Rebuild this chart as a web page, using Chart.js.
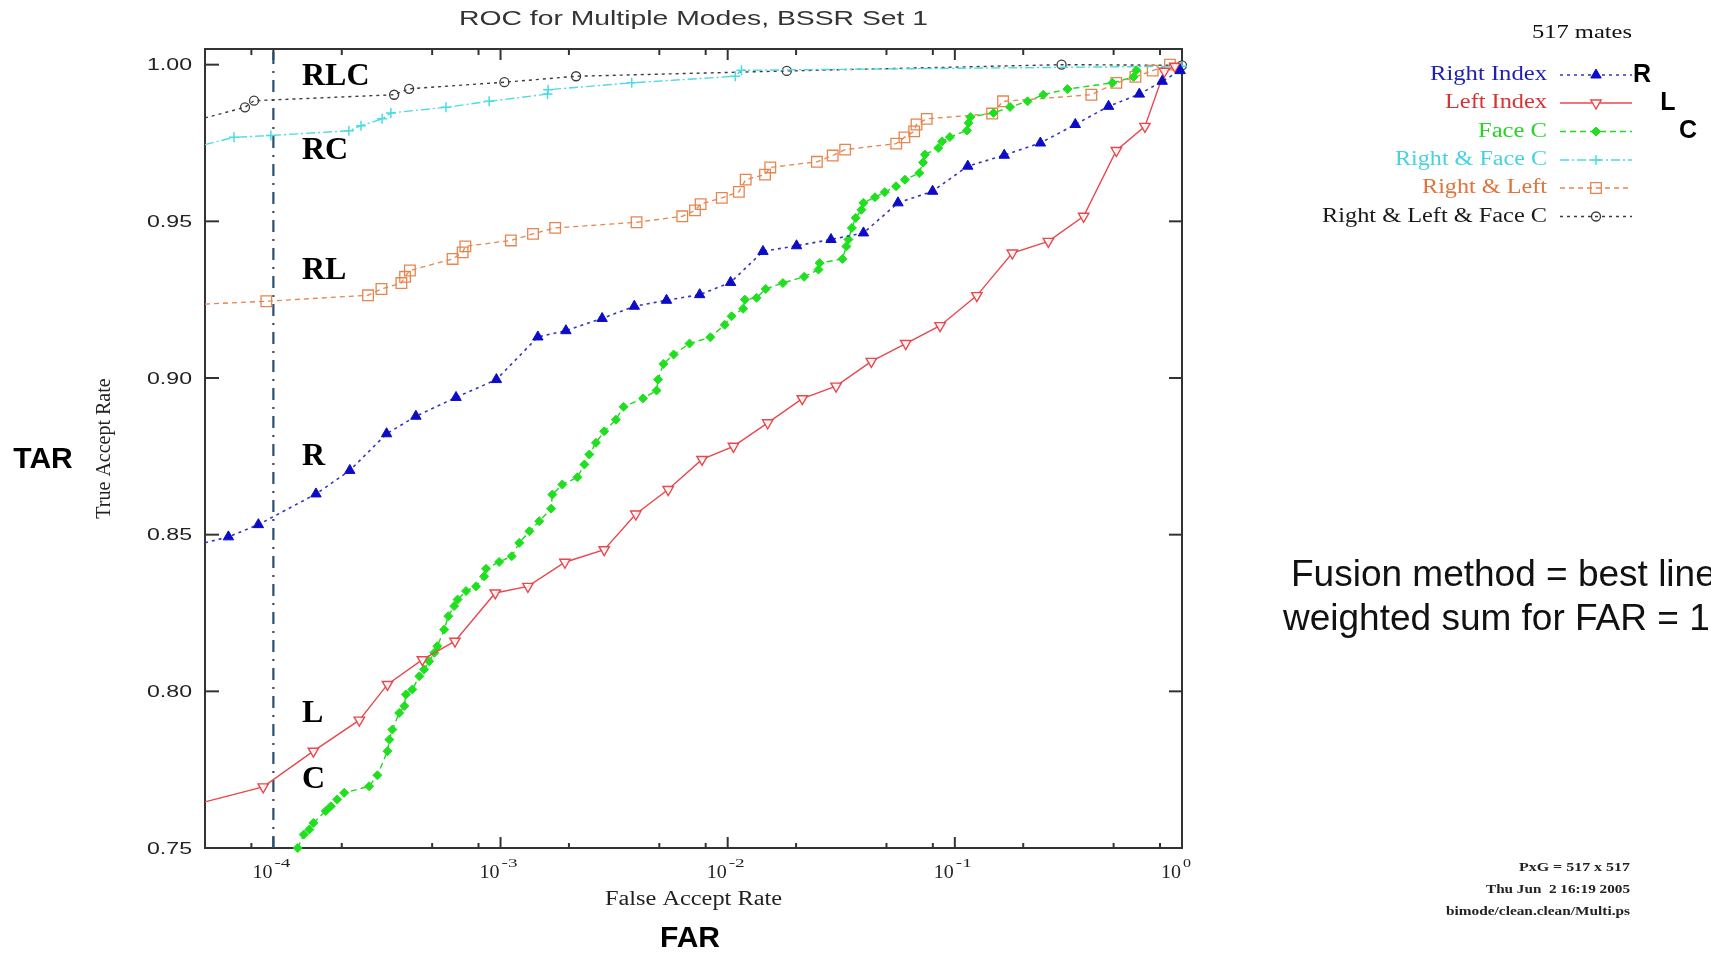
<!DOCTYPE html>
<html>
<head>
<meta charset="utf-8">
<script src="https://cdn.jsdelivr.net/npm/chart.js@4.4.1/dist/chart.umd.min.js"></script>
<style>
    html, body { margin: 0; padding: 0; background: #fff; }
    #roc { display: block; }
</style>
</head>
<body>
<canvas id="roc" width="1711" height="955"></canvas>
<script>
// axes
const xMin = 5e-5, xMax = 1;
const yMin = 0.75, yMax = 1.005;
const xDecades = [1e-4, 1e-3, 1e-2, 1e-1, 1];
const xDecadeExp = ['-4', '-3', '-2', '-1', '0'];
const xMinorSteps = [2, 5, 8];
const yTicks = [0.75, 0.80, 0.85, 0.90, 0.95, 1.00];
const farThreshold = 1e-4;

const seriesNames = ['Right Index', 'Left Index', 'Face C', 'Right & Face C', 'Right & Left', 'Right & Left & Face C'];

// Right Index
const rightFar = [5e-5, 6.34e-5, 8.59e-5, 1.54e-4, 2.17e-4, 3.15e-4, 4.24e-4, 6.37e-4, 9.59e-4, 1.46e-3,
    1.94e-3, 2.80e-3, 3.88e-3, 5.38e-3, 7.53e-3, 1.03e-2, 1.43e-2, 2.01e-2, 2.85e-2, 3.96e-2,
    5.62e-2, 7.98e-2, 0.114, 0.165, 0.238, 0.339, 0.475, 0.649, 0.818, 0.982];
const rightTar = [0.8474, 0.8493, 0.8532, 0.8630, 0.8705, 0.8822, 0.8878, 0.8938, 0.8995, 0.9131,
    0.9151, 0.9190, 0.9229, 0.9248, 0.9266, 0.9305, 0.9404, 0.9422, 0.9442, 0.9463,
    0.9559, 0.9596, 0.9676, 0.9711, 0.9750, 0.9809, 0.9867, 0.9906, 0.9947, 0.9981];

// Left Index
const leftFar = [5e-5, 9.02e-5, 1.50e-4, 2.39e-4, 3.18e-4, 4.53e-4, 6.30e-4, 9.48e-4, 1.32e-3, 1.92e-3,
    2.86e-3, 3.94e-3, 5.47e-3, 7.71e-3, 1.06e-2, 1.50e-2, 2.13e-2, 3.00e-2, 4.29e-2, 6.08e-2,
    8.61e-2, 0.125, 0.179, 0.258, 0.369, 0.514, 0.687, 0.836, 0.93];
const leftTar = [0.7647, 0.7695, 0.7809, 0.7908, 0.8022, 0.8101, 0.8160, 0.8314, 0.8335, 0.8412,
    0.8452, 0.8566, 0.8644, 0.8740, 0.8782, 0.8857, 0.8934, 0.8974, 0.9053, 0.9110,
    0.9167, 0.9263, 0.9399, 0.9436, 0.9516, 0.9726, 0.9803, 0.9979, 0.9995];

// Face C
const faceFar = [1.28e-4, 1.36e-4, 1.44e-4, 1.50e-4, 1.70e-4, 1.79e-4, 1.91e-4, 2.05e-4, 2.64e-4, 2.87e-4,
    3.18e-4, 3.24e-4, 3.34e-4, 3.58e-4, 3.77e-4, 3.83e-4, 4.09e-4, 4.39e-4, 4.61e-4, 4.85e-4,
    5.11e-4, 5.27e-4, 5.65e-4, 5.89e-4, 6.25e-4, 6.47e-4, 7.05e-4, 7.80e-4, 8.47e-4, 8.63e-4,
    9.86e-4, 1.12e-3, 1.21e-3, 1.34e-3, 1.48e-3, 1.67e-3, 1.69e-3, 1.87e-3, 2.18e-3, 2.34e-3,
    2.46e-3, 2.63e-3, 2.86e-3, 3.22e-3, 3.48e-3, 4.24e-3, 4.86e-3, 4.94e-3, 5.21e-3, 5.78e-3,
    6.79e-3, 8.39e-3, 9.70e-3, 1.04e-2, 1.17e-2, 1.19e-2, 1.34e-2, 1.47e-2, 1.75e-2, 2.17e-2,
    2.51e-2, 2.54e-2, 3.20e-2, 3.33e-2, 3.40e-2, 3.52e-2, 3.66e-2, 3.88e-2, 3.96e-2, 4.45e-2,
    4.91e-2, 5.51e-2, 6.03e-2, 6.97e-2, 7.24e-2, 7.38e-2, 8.45e-2, 8.79e-2, 9.51e-2, 0.113,
    0.115, 0.117, 0.148, 0.175, 0.209, 0.245, 0.313, 0.494, 0.612, 0.630];
const faceTar = [0.7500, 0.7543, 0.7559, 0.7580, 0.7618, 0.7633, 0.7655, 0.7676, 0.7697, 0.7732,
    0.7809, 0.7846, 0.7878, 0.7931, 0.7953, 0.7990, 0.8006, 0.8048, 0.8070, 0.8096,
    0.8123, 0.8144, 0.8197, 0.8240, 0.8272, 0.8293, 0.8320, 0.8335, 0.8367, 0.8391,
    0.8413, 0.8431, 0.8474, 0.8511, 0.8543, 0.8583, 0.8628, 0.8660, 0.8683, 0.8724,
    0.8756, 0.8793, 0.8830, 0.8867, 0.8908, 0.8935, 0.8960, 0.8995, 0.9045, 0.9075,
    0.9110, 0.9130, 0.9170, 0.9197, 0.9221, 0.9250, 0.9256, 0.9284, 0.9303, 0.9323,
    0.9346, 0.9367, 0.9380, 0.9420, 0.9442, 0.9479, 0.9511, 0.9537, 0.9559, 0.9577,
    0.9593, 0.9612, 0.9633, 0.9654, 0.9688, 0.9713, 0.9734, 0.9755, 0.9769, 0.9790,
    0.9814, 0.9833, 0.9846, 0.9865, 0.9883, 0.9904, 0.9922, 0.9942, 0.9961, 0.9982];

// Right & Face C
const rcFar = [5e-5, 6.71e-5, 9.75e-5, 2.15e-4, 2.43e-4, 3.01e-4, 3.29e-4, 5.75e-4, 8.91e-4, 1.61e-3,
    1.62e-3, 3.78e-3, 1.08e-2, 1.15e-2, 1];
const rcTar = [0.9745, 0.9768, 0.9774, 0.9789, 0.9805, 0.9827, 0.9846, 0.9864, 0.9883, 0.9906,
    0.9920, 0.9942, 0.9963, 0.9982, 0.9995];

// Right & Left
const rlFar = [5e-5, 9.31e-5, 2.61e-4, 2.99e-4, 3.66e-4, 3.80e-4, 3.99e-4, 6.15e-4, 6.81e-4, 7.00e-4,
    1.11e-3, 1.39e-3, 1.74e-3, 3.97e-3, 6.31e-3, 7.18e-3, 7.60e-3, 9.42e-3, 1.12e-2, 1.20e-2,
    1.46e-2, 1.54e-2, 2.47e-2, 2.90e-2, 3.29e-2, 5.52e-2, 6.00e-2, 6.62e-2, 6.78e-2, 7.52e-2,
    0.146, 0.163, 0.399, 0.514, 0.624, 0.743, 0.885];
const rlTar = [0.9236, 0.9245, 0.9264, 0.9284, 0.9303, 0.9323, 0.9343, 0.9380, 0.9401, 0.9420,
    0.9439, 0.9460, 0.9479, 0.9497, 0.9516, 0.9535, 0.9555, 0.9575, 0.9594, 0.9633,
    0.9649, 0.9672, 0.9690, 0.9710, 0.9729, 0.9748, 0.9768, 0.9787, 0.9809, 0.9827,
    0.9844, 0.9883, 0.9904, 0.9942, 0.9961, 0.9981, 1.0000];

// Right & Left & Face C
const rlcFar = [5e-5, 7.50e-5, 8.22e-5, 3.40e-4, 3.96e-4, 1.04e-3, 2.15e-3, 1.82e-2, 0.295, 1];
const rlcTar = [0.9830, 0.9864, 0.9885, 0.9904, 0.9923, 0.9944, 0.9963, 0.9980, 1.0000, 0.9998];

const legendColors = ['#1f1fb4', '#d83232', '#28d228', '#46d2e0', '#e0743c', '#1a1a1a'];

function series(label, far, tar, style) {
    return Object.assign({
        label,
        data: far.map((f, i) => ({ x: f, y: tar[i] })),
        fill: false, tension: 0, clip: false,
        // no marker where the curve enters at the left border
        pointRadius: c => (c.raw && c.raw.x <= xMin ? 0 : style.r)
    }, style);
}

const datasets = [
    series(seriesNames[0], rightFar, rightTar, {
        borderColor: '#3434c0', borderWidth: 1.6, borderDash: [3, 4],
        pointStyle: 'triangle', pointBackgroundColor: '#0c0cc8', pointBorderColor: '#0c0cc8', pointBorderWidth: 1, r: 6
    }),
    series(seriesNames[1], leftFar, leftTar, {
        borderColor: '#e8484c', borderWidth: 1.4, borderDash: [],
        pointStyle: 'triangle', pointRotation: 180, pointBackgroundColor: 'rgba(255,255,255,0.85)',
        pointBorderColor: '#e8484c', pointBorderWidth: 1.4, r: 6
    }),
    series(seriesNames[2], faceFar, faceTar, {
        borderColor: '#20d820', borderWidth: 1.4, borderDash: [6, 4],
        pointStyle: 'rectRot', pointBackgroundColor: '#1ee01e', pointBorderColor: '#1ee01e', pointBorderWidth: 1, r: 4.5
    }),
    series(seriesNames[3], rcFar, rcTar, {
        borderColor: '#4cdbe4', borderWidth: 1.4, borderDash: [9, 3, 2, 3],
        pointStyle: 'cross', pointBackgroundColor: '#4cdbe4', pointBorderColor: '#4cdbe4', pointBorderWidth: 1.5, r: 5
    }),
    series(seriesNames[4], rlFar, rlTar, {
        borderColor: '#e8844e', borderWidth: 1.3, borderDash: [5, 4],
        pointStyle: 'rect', pointBackgroundColor: 'rgba(255,255,255,0)', pointBorderColor: '#e8844e', pointBorderWidth: 1.3, r: 7.5
    }),
    series(seriesNames[5], rlcFar, rlcTar, {
        borderColor: '#3c3c3c', borderWidth: 1.4, borderDash: [3, 4],
        pointStyle: 'circle', pointBackgroundColor: 'rgba(255,255,255,0)', pointBorderColor: '#3c3c3c', pointBorderWidth: 1.3, r: 4.5
    }),
    {
        label: 'FAR threshold',
        data: [{ x: farThreshold, y: yMin }, { x: farThreshold, y: yMax }],
        borderColor: '#2e4e6e', borderWidth: 2.2, borderDash: [12, 7, 2, 7],
        pointRadius: 0, fill: false, clip: false
    }
];

function put(ctx, s, x, y, font, color, align, w, base) {
    ctx.save();
    ctx.font = font;
    ctx.fillStyle = color;
    ctx.textBaseline = base || 'middle';
    ctx.textAlign = 'left';
    const m = ctx.measureText(s).width;
    const k = w ? w / m : 1, tw = m * k;
    const x0 = align === 'right' ? x - tw : align === 'center' ? x - tw / 2 : x;
    ctx.translate(x0, y);
    ctx.scale(k, 1);
    ctx.fillText(s, 0, 0);
    ctx.restore();
}

function seg(ctx, x1, y1, x2, y2) {
    ctx.beginPath(); ctx.moveTo(x1, y1); ctx.lineTo(x2, y2); ctx.stroke();
}

const decor = {
    id: 'decor',
    beforeDatasetsDraw(chart) {
        const { ctx, chartArea: a, scales: { x, y } } = chart;
        ctx.save();
        ctx.strokeStyle = '#333';
        ctx.lineWidth = 2;
        ctx.strokeRect(a.left, a.top, a.right - a.left, a.bottom - a.top);
        x.ticks.forEach(t => {
            const px = x.getPixelForValue(t.value);
            const big = xDecades.includes(t.value);
            seg(ctx, px, a.bottom, px, a.bottom - (big ? 11 : 5));
            seg(ctx, px, a.top, px, a.top + (big ? 11 : 6));
        });
        y.ticks.forEach(t => {
            const py = y.getPixelForValue(t.value);
            seg(ctx, a.left, py, a.left + 14, py);
            seg(ctx, a.right, py, a.right - 13, py);
        });
        ctx.restore();
    },
    afterDraw(chart) {
        const { ctx, chartArea: a, scales: { x, y } } = chart;
        const ink = '#222';

        // tick labels
        y.ticks.forEach(t => {
            const py = y.getPixelForValue(t.value);
            put(ctx, t.value.toFixed(2), a.left - 13, py + 1, '17px "Liberation Sans"', ink, 'right', 45);
        });
        xDecades.forEach((d, i) => {
            const px = x.getPixelForValue(d);
            put(ctx, '10', px - 1, 873, '18px "Liberation Serif"', ink, 'right', 20);
            put(ctx, xDecadeExp[i], px + 1, 864, '12px "Liberation Serif"', ink, 'left', xDecadeExp[i].length * 8);
        });

        // titles
        put(ctx, 'ROC for Multiple Modes, BSSR Set 1', (a.left + a.right) / 2, 19, '21px "Liberation Sans"', '#333', 'center', 469);
        put(ctx, 'False Accept Rate', (a.left + a.right) / 2, 900, '20px "Liberation Serif"', ink, 'center', 177);
        ctx.save();
        ctx.translate(105, (a.top + a.bottom) / 2);
        ctx.rotate(-Math.PI / 2);
        put(ctx, 'True Accept Rate', 0, 0, '20px "Liberation Serif"', ink, 'center');
        ctx.restore();

        // curve labels
        const lab = 'bold 32px "Liberation Serif"';
        [['RLC', 85], ['RC', 159], ['RL', 279], ['R', 465], ['L', 722], ['C', 788]].forEach(([s, by]) => {
            put(ctx, s, 302, by, lab, '#000', 'left', 0, 'alphabetic');
        });

        // legend
        put(ctx, '517 mates', 1632, 33, '19px "Liberation Serif"', '#111', 'right', 100);
        const rows = [75, 103, 131.5, 160, 188, 216.5];
        const legendWidths = [117, 102, 69, 152, 125, 225];
        chart.data.datasets.slice(0, 6).forEach((ds, i) => {
            const ry = rows[i];
            put(ctx, ds.label, 1547, ry, '20px "Liberation Serif"', legendColors[i], 'right', legendWidths[i]);
            ctx.save();
            ctx.strokeStyle = ds.borderColor;
            ctx.lineWidth = ds.borderWidth;
            ctx.setLineDash(ds.borderDash);
            seg(ctx, 1560, ry, 1632, ry);
            ctx.setLineDash([]);
            const dp = Chart.helpers && Chart.helpers.drawPoint;
            if (dp) {
                ctx.fillStyle = ds.pointBackgroundColor;
                ctx.strokeStyle = ds.pointBorderColor;
                ctx.lineWidth = ds.pointBorderWidth;
                dp(ctx, { pointStyle: ds.pointStyle, rotation: ds.pointRotation || 0, radius: ds.r, borderWidth: ds.pointBorderWidth }, 1596, ry);
            }
            ctx.restore();
        });
        const side = 'bold 25px "Liberation Sans"';
        put(ctx, 'R', 1642, 75, side, '#000', 'center');
        put(ctx, 'L', 1668, 103, side, '#000', 'center');
        put(ctx, 'C', 1688, 131, side, '#000', 'center');

        // added annotations
        put(ctx, 'TAR', 43, 460, 'bold 30px "Liberation Sans"', '#000', 'center');
        put(ctx, 'FAR', 690, 939, 'bold 30px "Liberation Sans"', '#000', 'center');
        put(ctx, 'Fusion method = best line', 1291, 576, '37px "Liberation Sans"', '#111', 'left');
        put(ctx, 'weighted sum for FAR = 1', 1283, 620, '37px "Liberation Sans"', '#111', 'left');

        // plot stamp
        const stamp = 'bold 13px "Liberation Serif"';
        put(ctx, 'PxG = 517 x 517', 1630, 868, stamp, '#222', 'right', 111);
        put(ctx, 'Thu Jun  2 16:19 2005', 1630, 890, stamp, '#222', 'right', 144);
        put(ctx, 'bimode/clean.clean/Multi.ps', 1630, 912, stamp, '#222', 'right', 184);
    }
};

new Chart(document.getElementById('roc'), {
    type: 'line',
    data: { datasets },
    options: {
        responsive: false, animation: false, devicePixelRatio: 1,
        layout: { padding: { left: 0, top: 49, right: 529, bottom: 0 } },
        plugins: { legend: { display: false }, tooltip: { enabled: false }, title: { display: false } },
        scales: {
            x: {
                type: 'logarithmic', min: xMin, max: xMax,
                ticks: { display: false }, grid: { display: false }, border: { display: false },
                afterBuildTicks: s => {
                    const t = [];
                    xDecades.forEach(d => {
                        t.push({ value: d });
                        xMinorSteps.forEach(m => {
                            const v = d / 10 * m;
                            if (v > xMin * 1.01) t.push({ value: v });
                        });
                    });
                    s.ticks = t.sort((p, q) => p.value - q.value);
                },
                afterFit: s => { s.height = 107; }
            },
            y: {
                type: 'linear', min: yMin, max: yMax,
                ticks: { display: false }, grid: { display: false }, border: { display: false },
                afterBuildTicks: s => { s.ticks = yTicks.map(v => ({ value: v })); },
                afterFit: s => { s.height; s.width = 205; }
            }
        }
    },
    plugins: [decor]
});
</script>
</body>
</html>
